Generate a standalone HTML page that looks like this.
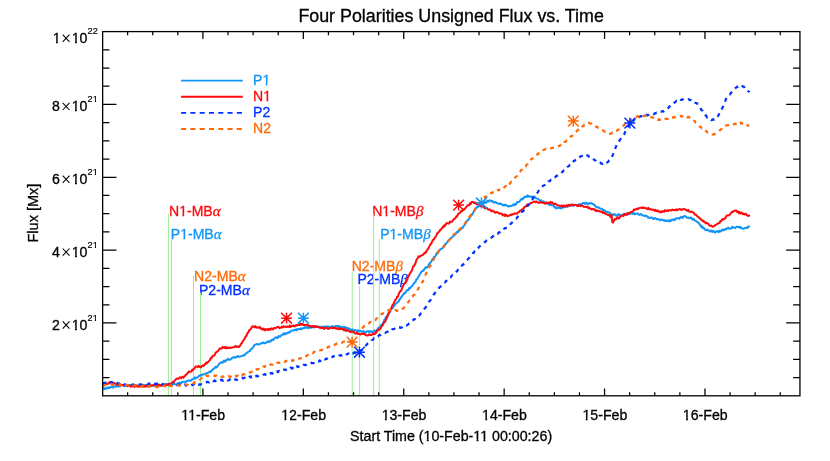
<!DOCTYPE html>
<html><head><meta charset="utf-8"><title>Four Polarities Unsigned Flux vs. Time</title>
<style>
html,body{margin:0;padding:0;background:#fff;}
body{width:830px;height:461px;overflow:hidden;}
svg{display:block;will-change:transform;opacity:0.999;}
text{font-family:"Liberation Sans",sans-serif;stroke-width:0.3px;paint-order:stroke;}
.al{font-size:14.15px;fill:#000;stroke:#000;}
.sup{font-size:9.2px;fill:#000;stroke:#000;stroke-width:0.2px;}
.ann{font-size:14.05px;}
.gk{font-family:"Liberation Serif",serif;font-style:italic;font-size:15px;}
</style></head><body>
<svg width="830" height="461" viewBox="0 0 830 461">
<rect width="830" height="461" fill="#fff"/>
<text x="451.1" y="21.6" text-anchor="middle" font-size="17.85" stroke="#000">Four Polarities Unsigned Flux vs. Time</text>
<text class="ann" x="169.0" y="215.9" fill="#FF0A0C" stroke="#FF0A0C">N1-MB<tspan class="gk">α</tspan></text><path d="M179.00 214.00H182.37V217.00H179.00ZM184.22 214.00H187.00V217.00H184.22Z" fill="#fff"/>
<text class="ann" x="170.8" y="239.2" fill="#1094F6" stroke="#1094F6">P1-MB<tspan class="gk">α</tspan></text><path d="M180.00 237.00H183.39V240.00H180.00ZM185.23 237.00H188.00V240.00H185.23Z" fill="#fff"/>
<text class="ann" x="194.1" y="280.9" fill="#FF6A08" stroke="#FF6A08">N2-MB<tspan class="gk">α</tspan></text>
<text class="ann" x="199.0" y="294.8" fill="#0030FF" stroke="#0030FF">P2-MB<tspan class="gk">α</tspan></text>
<text class="ann" x="372.2" y="215.6" fill="#FF0A0C" stroke="#FF0A0C">N1-MB<tspan class="gk">β</tspan></text><path d="M382.00 214.00H385.57V217.00H382.00ZM387.42 214.00H391.00V217.00H387.42Z" fill="#fff"/>
<text class="ann" x="380.2" y="238.8" fill="#1094F6" stroke="#1094F6">P1-MB<tspan class="gk">β</tspan></text><path d="M390.00 237.00H392.79V240.00H390.00ZM394.63 237.00H398.00V240.00H394.63Z" fill="#fff"/>
<text class="ann" x="351.7" y="271.3" fill="#FF6A08" stroke="#FF6A08">N2-MB<tspan class="gk">β</tspan></text>
<text class="ann" x="357.4" y="284.4" fill="#0030FF" stroke="#0030FF">P2-MB<tspan class="gk">β</tspan></text>
<line x1="168.40" y1="213.8" x2="168.40" y2="395.8" stroke="#98EE98" stroke-width="1"/>
<line x1="171.40" y1="238.6" x2="171.40" y2="395.8" stroke="#98EE98" stroke-width="1"/>
<line x1="193.50" y1="276.0" x2="193.50" y2="395.8" stroke="#98EE98" stroke-width="1"/>
<line x1="200.50" y1="292.8" x2="200.50" y2="395.8" stroke="#98EE98" stroke-width="1"/>
<line x1="352.20" y1="272.0" x2="352.20" y2="395.8" stroke="#98EE98" stroke-width="1"/>
<line x1="359.60" y1="286.0" x2="359.60" y2="395.8" stroke="#98EE98" stroke-width="1"/>
<line x1="373.60" y1="214.2" x2="373.60" y2="395.8" stroke="#98EE98" stroke-width="1"/>
<line x1="379.30" y1="239.2" x2="379.30" y2="395.8" stroke="#98EE98" stroke-width="1"/>
<g fill="none" stroke-linejoin="round">
<path d="M102.7 388.6 L103.5 388.3 L104.3 389.1 L105.1 388.0 L105.9 388.7 L106.7 388.3 L107.5 387.6 L108.3 388.3 L109.1 387.4 L109.9 387.9 L110.7 387.1 L111.5 387.0 L112.3 387.3 L113.1 387.7 L113.9 386.2 L114.7 386.1 L115.5 386.5 L116.3 386.8 L117.1 386.0 L117.9 385.6 L118.7 386.5 L119.5 384.9 L120.3 386.3 L121.1 385.3 L121.9 385.1 L122.7 385.1 L123.5 385.4 L124.3 386.2 L125.1 385.2 L125.9 385.8 L126.7 385.9 L127.5 385.5 L128.3 385.8 L129.1 384.9 L129.9 384.9 L130.7 385.2 L131.5 386.0 L132.3 385.5 L133.1 385.3 L133.9 385.8 L134.7 385.6 L135.5 385.3 L136.3 386.1 L137.1 386.0 L137.9 385.2 L138.7 385.7 L139.5 385.6 L140.3 386.2 L141.1 386.0 L141.9 385.2 L142.7 386.4 L143.5 384.9 L144.3 385.4 L145.1 385.9 L145.9 384.9 L146.7 385.4 L147.5 384.7 L148.3 385.7 L149.1 385.9 L149.9 385.5 L150.7 386.0 L151.5 385.1 L152.3 385.7 L153.1 385.5 L153.9 385.5 L154.7 385.2 L155.5 385.8 L156.3 386.0 L157.1 385.2 L157.9 385.4 L158.7 384.4 L159.5 385.4 L160.3 385.3 L161.1 385.8 L161.9 385.5 L162.7 384.6 L163.5 384.7 L164.3 385.1 L165.1 384.0 L165.9 384.7 L166.7 384.2 L167.5 384.0 L168.3 383.9 L169.1 385.1 L169.9 384.0 L170.7 384.1 L171.5 384.3 L172.3 385.0 L173.1 383.5 L173.9 384.0 L174.7 384.0 L175.5 384.5 L176.3 384.2 L177.1 384.1 L177.9 383.0 L178.7 383.1 L179.5 382.8 L180.3 383.6 L181.1 383.5 L181.9 382.0 L182.7 381.9 L183.5 381.8 L184.3 381.6 L185.1 381.9 L185.9 381.9 L186.7 381.1 L187.5 380.5 L188.3 380.9 L189.1 380.5 L189.9 380.5 L190.7 380.8 L191.5 380.0 L192.3 379.3 L193.1 379.1 L193.9 378.8 L194.7 377.4 L195.5 378.4 L196.3 377.8 L197.1 377.6 L197.9 377.1 L198.7 376.0 L199.5 375.7 L200.3 375.0 L201.1 375.7 L201.9 374.5 L202.7 374.4 L203.5 374.4 L204.3 374.2 L205.1 374.3 L205.9 373.6 L206.7 373.2 L207.5 373.0 L208.3 372.5 L209.1 372.3 L209.9 371.2 L210.7 372.0 L211.5 371.0 L212.3 369.6 L213.1 369.2 L213.9 368.7 L214.7 368.0 L215.5 366.9 L216.3 367.5 L217.1 367.0 L217.9 365.4 L218.7 364.7 L219.5 363.4 L220.3 362.8 L221.1 362.7 L221.9 362.1 L222.7 362.6 L223.5 361.1 L224.3 360.5 L225.1 361.8 L225.9 360.7 L226.7 359.7 L227.5 360.0 L228.3 358.8 L229.1 359.4 L229.9 359.8 L230.7 359.3 L231.5 358.7 L232.3 357.7 L233.1 357.6 L233.9 357.0 L234.7 357.7 L235.5 357.1 L236.3 357.3 L237.1 356.3 L237.9 355.9 L238.7 356.7 L239.5 356.8 L240.3 356.4 L241.1 356.2 L241.9 356.1 L242.7 355.9 L243.5 355.0 L244.3 355.4 L245.1 354.7 L245.9 353.6 L246.7 352.9 L247.5 352.5 L248.3 351.6 L249.1 351.4 L249.9 351.0 L250.7 349.2 L251.5 349.1 L252.3 348.2 L253.1 347.4 L253.9 345.7 L254.7 344.9 L255.5 344.6 L256.3 344.3 L257.1 344.0 L257.9 344.4 L258.7 344.6 L259.5 344.3 L260.3 343.5 L261.1 343.5 L261.9 343.6 L262.7 342.3 L263.5 343.1 L264.3 343.4 L265.1 343.0 L265.9 342.8 L266.7 342.2 L267.5 341.5 L268.3 342.2 L269.1 341.1 L269.9 341.5 L270.7 341.4 L271.5 340.0 L272.3 339.6 L273.1 340.1 L273.9 339.3 L274.7 338.0 L275.5 337.5 L276.3 337.2 L277.1 338.1 L277.9 337.5 L278.7 336.0 L279.5 336.7 L280.3 336.6 L281.1 335.7 L281.9 334.8 L282.7 334.8 L283.5 333.7 L284.3 333.2 L285.1 334.5 L285.9 333.6 L286.7 333.0 L287.5 333.4 L288.3 332.2 L289.1 332.7 L289.9 332.3 L290.7 331.0 L291.5 330.8 L292.3 330.6 L293.1 330.3 L293.9 330.6 L294.7 329.8 L295.5 329.9 L296.3 329.2 L297.1 330.3 L297.9 329.1 L298.7 329.1 L299.5 329.1 L300.3 329.4 L301.1 328.4 L301.9 329.1 L302.7 328.2 L303.5 328.2 L304.3 328.1 L305.1 327.1 L305.9 327.8 L306.7 327.3 L307.5 326.9 L308.3 328.2 L309.1 327.0 L309.9 327.5 L310.7 327.8 L311.5 327.5 L312.3 327.0 L313.1 327.2 L313.9 327.2 L314.7 327.5 L315.5 326.3 L316.3 327.0 L317.1 326.4 L317.9 326.4 L318.7 327.2 L319.5 326.8 L320.3 326.8 L321.1 327.2 L321.9 327.4 L322.7 326.6 L323.5 326.8 L324.3 326.6 L325.1 326.6 L325.9 326.9 L326.7 326.5 L327.5 326.6 L328.3 326.5 L329.1 327.3 L329.9 326.8 L330.7 327.1 L331.5 327.2 L332.3 326.0 L333.1 326.5 L333.9 327.2 L334.7 327.0 L335.5 325.9 L336.3 325.9 L337.1 326.5 L337.9 326.0 L338.7 326.3 L339.5 326.1 L340.3 327.2 L341.1 327.4 L341.9 327.7 L342.7 326.5 L343.5 327.5 L344.3 327.5 L345.1 326.8 L345.9 328.3 L346.7 328.7 L347.5 327.7 L348.3 329.3 L349.1 328.6 L349.9 329.1 L350.7 330.2 L351.5 330.2 L352.3 329.3 L353.1 330.0 L353.9 330.3 L354.7 330.2 L355.5 330.1 L356.3 330.4 L357.1 331.3 L357.9 330.2 L358.7 331.3 L359.5 331.3 L360.3 330.7 L361.1 331.3 L361.9 331.9 L362.7 331.7 L363.5 331.0 L364.3 332.6 L365.1 332.3 L365.9 332.6 L366.7 331.2 L367.5 331.5 L368.3 331.1 L369.1 332.4 L369.9 331.5 L370.7 331.1 L371.5 331.5 L372.3 332.2 L373.1 331.9 L373.9 330.8 L374.7 330.5 L375.5 331.5 L376.3 330.5 L377.1 330.2 L377.9 328.5 L378.7 327.6 L379.5 327.9 L380.3 326.6 L381.1 325.0 L381.9 325.3 L382.7 323.5 L383.5 322.4 L384.3 319.7 L385.1 319.6 L385.9 316.9 L386.7 316.9 L387.5 314.9 L388.3 313.4 L389.1 312.6 L389.9 312.2 L390.7 310.0 L391.5 308.9 L392.3 308.6 L393.1 307.2 L393.9 306.0 L394.7 305.1 L395.5 304.0 L396.3 303.3 L397.1 302.6 L397.9 301.6 L398.7 301.4 L399.5 299.5 L400.3 298.9 L401.1 297.3 L401.9 296.5 L402.7 295.0 L403.5 294.4 L404.3 293.0 L405.1 293.2 L405.9 292.0 L406.7 290.5 L407.5 290.1 L408.3 290.2 L409.1 288.0 L409.9 288.6 L410.7 287.2 L411.5 286.5 L412.3 286.1 L413.1 284.4 L413.9 283.4 L414.7 282.5 L415.5 281.8 L416.3 279.5 L417.1 279.1 L417.9 277.7 L418.7 276.4 L419.5 274.9 L420.3 273.7 L421.1 272.2 L421.9 271.3 L422.7 270.4 L423.5 270.7 L424.3 269.1 L425.1 268.1 L425.9 267.2 L426.7 267.7 L427.5 266.9 L428.3 265.8 L429.1 264.2 L429.9 263.2 L430.7 262.2 L431.5 261.3 L432.3 259.5 L433.1 258.6 L433.9 257.0 L434.7 257.0 L435.5 256.0 L436.3 254.3 L437.1 252.8 L437.9 253.2 L438.7 251.3 L439.5 250.6 L440.3 249.2 L441.1 249.1 L441.9 248.5 L442.7 247.8 L443.5 246.5 L444.3 246.1 L445.1 244.4 L445.9 243.9 L446.7 242.7 L447.5 242.3 L448.3 240.7 L449.1 239.8 L449.9 239.3 L450.7 238.2 L451.5 237.9 L452.3 236.9 L453.1 236.5 L453.9 235.5 L454.7 234.8 L455.5 234.3 L456.3 232.7 L457.1 231.8 L457.9 232.3 L458.7 230.2 L459.5 230.6 L460.3 229.7 L461.1 228.0 L461.9 228.5 L462.7 227.7 L463.5 226.2 L464.3 225.3 L465.1 224.4 L465.9 222.1 L466.7 221.6 L467.5 220.4 L468.3 219.8 L469.1 218.6 L469.9 217.5 L470.7 216.1 L471.5 215.5 L472.3 214.1 L473.1 213.1 L473.9 211.2 L474.7 209.8 L475.5 208.8 L476.3 208.2 L477.1 206.7 L477.9 206.9 L478.7 205.5 L479.5 204.8 L480.3 204.1 L481.1 203.7 L481.9 202.9 L482.7 201.8 L483.5 202.9 L484.3 202.6 L485.1 202.0 L485.9 201.8 L486.7 201.9 L487.5 200.7 L488.3 201.7 L489.1 200.7 L489.9 200.3 L490.7 200.6 L491.5 201.5 L492.3 200.8 L493.1 201.9 L493.9 202.6 L494.7 202.0 L495.5 202.1 L496.3 202.6 L497.1 203.2 L497.9 203.6 L498.7 203.7 L499.5 204.0 L500.3 203.4 L501.1 203.8 L501.9 204.3 L502.7 205.3 L503.5 204.8 L504.3 205.5 L505.1 204.7 L505.9 204.9 L506.7 205.4 L507.5 206.2 L508.3 206.4 L509.1 206.4 L509.9 205.8 L510.7 206.0 L511.5 205.8 L512.3 205.5 L513.1 204.5 L513.9 205.5 L514.7 203.9 L515.5 204.8 L516.3 204.2 L517.1 202.0 L517.9 202.1 L518.7 202.1 L519.5 201.7 L520.3 200.2 L521.1 199.3 L521.9 198.7 L522.7 199.4 L523.5 197.6 L524.3 197.7 L525.1 196.4 L525.9 196.6 L526.7 197.0 L527.5 195.4 L528.3 196.5 L529.1 196.1 L529.9 196.9 L530.7 196.8 L531.5 196.2 L532.3 197.5 L533.1 197.0 L533.9 196.5 L534.7 196.8 L535.5 198.0 L536.3 198.4 L537.1 198.6 L537.9 198.8 L538.7 199.6 L539.5 200.0 L540.3 201.3 L541.1 200.3 L541.9 201.9 L542.7 202.3 L543.5 201.3 L544.3 203.0 L545.1 202.8 L545.9 203.4 L546.7 202.6 L547.5 203.0 L548.3 203.4 L549.1 204.8 L549.9 204.6 L550.7 204.7 L551.5 205.2 L552.3 205.4 L553.1 205.5 L553.9 206.0 L554.7 207.6 L555.5 207.0 L556.3 208.4 L557.1 207.6 L557.9 207.8 L558.7 208.2 L559.5 207.6 L560.3 207.7 L561.1 208.4 L561.9 207.9 L562.7 207.5 L563.5 206.9 L564.3 207.2 L565.1 207.1 L565.9 206.3 L566.7 206.5 L567.5 205.2 L568.3 206.2 L569.1 205.6 L569.9 206.1 L570.7 205.8 L571.5 205.1 L572.3 204.6 L573.1 206.0 L573.9 204.6 L574.7 205.1 L575.5 204.8 L576.3 204.7 L577.1 205.4 L577.9 205.7 L578.7 204.4 L579.5 204.9 L580.3 204.1 L581.1 204.3 L581.9 203.8 L582.7 203.1 L583.5 202.9 L584.3 202.8 L585.1 203.9 L585.9 203.2 L586.7 202.7 L587.5 204.0 L588.3 204.2 L589.1 203.4 L589.9 202.9 L590.7 203.2 L591.5 203.2 L592.3 204.0 L593.1 204.0 L593.9 204.7 L594.7 205.2 L595.5 206.2 L596.3 207.2 L597.1 207.4 L597.9 207.2 L598.7 207.7 L599.5 208.2 L600.3 208.4 L601.1 208.7 L601.9 208.7 L602.7 209.4 L603.5 211.0 L604.3 210.0 L605.1 211.0 L605.9 211.6 L606.7 212.4 L607.5 211.7 L608.3 212.2 L609.1 212.5 L609.9 213.1 L610.7 213.5 L611.5 214.7 L612.3 214.9 L613.1 215.2 L613.9 214.0 L614.7 214.1 L615.5 215.4 L616.3 215.7 L617.1 215.0 L617.9 215.2 L618.7 214.1 L619.5 214.7 L620.3 215.5 L621.1 215.3 L621.9 215.2 L622.7 215.3 L623.5 214.0 L624.3 213.7 L625.1 213.7 L625.9 214.2 L626.7 214.4 L627.5 214.7 L628.3 214.2 L629.1 214.0 L629.9 214.1 L630.7 213.4 L631.5 213.5 L632.3 212.6 L633.1 213.9 L633.9 213.0 L634.7 214.3 L635.5 214.0 L636.3 213.5 L637.1 213.4 L637.9 213.8 L638.7 214.6 L639.5 214.9 L640.3 214.0 L641.1 214.2 L641.9 215.2 L642.7 215.5 L643.5 215.4 L644.3 215.4 L645.1 216.2 L645.9 215.5 L646.7 216.2 L647.5 216.7 L648.3 217.8 L649.1 217.5 L649.9 218.1 L650.7 217.6 L651.5 217.4 L652.3 217.6 L653.1 219.0 L653.9 218.8 L654.7 218.3 L655.5 218.0 L656.3 219.0 L657.1 219.4 L657.9 219.2 L658.7 219.1 L659.5 219.9 L660.3 220.5 L661.1 219.5 L661.9 219.4 L662.7 220.0 L663.5 220.3 L664.3 220.8 L665.1 220.1 L665.9 221.2 L666.7 221.1 L667.5 220.8 L668.3 220.3 L669.1 221.5 L669.9 220.3 L670.7 221.0 L671.5 219.8 L672.3 219.6 L673.1 220.2 L673.9 219.2 L674.7 220.1 L675.5 219.1 L676.3 218.3 L677.1 218.1 L677.9 218.3 L678.7 218.5 L679.5 218.7 L680.3 217.2 L681.1 217.4 L681.9 216.9 L682.7 218.0 L683.5 216.4 L684.3 216.1 L685.1 216.1 L685.9 216.7 L686.7 217.6 L687.5 217.7 L688.3 217.6 L689.1 218.2 L689.9 218.3 L690.7 217.6 L691.5 217.7 L692.3 219.5 L693.1 219.7 L693.9 219.0 L694.7 220.6 L695.5 220.7 L696.3 221.3 L697.1 221.9 L697.9 222.3 L698.7 222.9 L699.5 224.1 L700.3 225.0 L701.1 226.8 L701.9 226.1 L702.7 228.2 L703.5 227.6 L704.3 228.4 L705.1 229.7 L705.9 230.2 L706.7 230.0 L707.5 229.6 L708.3 230.6 L709.1 230.5 L709.9 231.6 L710.7 230.5 L711.5 230.9 L712.3 232.0 L713.1 230.7 L713.9 231.5 L714.7 232.4 L715.5 232.5 L716.3 231.3 L717.1 231.2 L717.9 231.1 L718.7 232.3 L719.5 230.8 L720.3 231.4 L721.1 231.3 L721.9 230.0 L722.7 229.6 L723.5 230.5 L724.3 229.7 L725.1 228.9 L725.9 229.5 L726.7 228.6 L727.5 228.3 L728.3 227.6 L729.1 228.7 L729.9 228.8 L730.7 228.2 L731.5 228.5 L732.3 226.8 L733.1 227.1 L733.9 227.4 L734.7 228.1 L735.5 228.0 L736.3 226.9 L737.1 226.6 L737.9 226.9 L738.7 227.0 L739.5 227.8 L740.3 226.7 L741.1 228.0 L741.9 228.2 L742.7 228.6 L743.5 228.7 L744.3 228.4 L745.1 227.9 L745.9 227.8 L746.7 227.6 L747.5 228.0 L748.3 226.5 L749.1 226.6 L749.4 227.4" stroke="#1094F6" stroke-width="2.0"/>
<path d="M102.7 384.3 L103.5 383.8 L104.3 383.6 L105.1 384.1 L105.9 383.4 L106.7 384.1 L107.5 383.7 L108.3 383.7 L109.1 382.4 L109.9 382.1 L110.7 382.2 L111.5 383.0 L112.3 383.4 L113.1 383.1 L113.9 382.8 L114.7 383.3 L115.5 383.9 L116.3 384.2 L117.1 384.5 L117.9 384.9 L118.7 384.8 L119.5 384.0 L120.3 385.4 L121.1 384.6 L121.9 385.1 L122.7 384.9 L123.5 385.6 L124.3 384.7 L125.1 384.9 L125.9 385.0 L126.7 384.9 L127.5 386.2 L128.3 385.8 L129.1 385.4 L129.9 385.6 L130.7 386.7 L131.5 386.0 L132.3 385.5 L133.1 386.6 L133.9 386.3 L134.7 386.9 L135.5 385.4 L136.3 386.0 L137.1 386.6 L137.9 386.6 L138.7 386.7 L139.5 385.2 L140.3 385.6 L141.1 385.3 L141.9 385.4 L142.7 386.7 L143.5 386.0 L144.3 386.6 L145.1 385.6 L145.9 386.5 L146.7 385.7 L147.5 385.4 L148.3 386.3 L149.1 386.5 L149.9 385.1 L150.7 385.9 L151.5 385.9 L152.3 385.2 L153.1 385.5 L153.9 385.1 L154.7 385.1 L155.5 385.2 L156.3 385.8 L157.1 385.8 L157.9 385.0 L158.7 384.7 L159.5 385.2 L160.3 385.8 L161.1 384.9 L161.9 385.1 L162.7 384.9 L163.5 385.9 L164.3 385.4 L165.1 384.6 L165.9 384.5 L166.7 384.9 L167.5 385.0 L168.3 384.9 L169.1 383.8 L169.9 383.6 L170.7 384.2 L171.5 383.3 L172.3 382.5 L173.1 381.9 L173.9 382.2 L174.7 380.3 L175.5 379.9 L176.3 378.9 L177.1 378.4 L177.9 378.7 L178.7 378.7 L179.5 377.5 L180.3 377.3 L181.1 378.2 L181.9 377.3 L182.7 376.7 L183.5 377.7 L184.3 376.2 L185.1 376.0 L185.9 374.5 L186.7 374.6 L187.5 373.3 L188.3 372.2 L189.1 371.4 L189.9 371.9 L190.7 371.6 L191.5 371.6 L192.3 369.6 L193.1 369.9 L193.9 368.7 L194.7 368.1 L195.5 366.7 L196.3 366.4 L197.1 366.5 L197.9 367.1 L198.7 365.8 L199.5 366.7 L200.3 367.2 L201.1 367.4 L201.9 365.8 L202.7 365.2 L203.5 366.0 L204.3 365.5 L205.1 364.1 L205.9 362.8 L206.7 363.6 L207.5 361.9 L208.3 362.0 L209.1 360.7 L209.9 360.1 L210.7 358.1 L211.5 358.3 L212.3 356.4 L213.1 355.8 L213.9 355.7 L214.7 354.9 L215.5 353.0 L216.3 352.2 L217.1 351.7 L217.9 351.1 L218.7 350.1 L219.5 348.9 L220.3 348.3 L221.1 348.5 L221.9 348.4 L222.7 346.8 L223.5 347.6 L224.3 348.0 L225.1 346.9 L225.9 348.4 L226.7 347.2 L227.5 348.1 L228.3 348.1 L229.1 348.2 L229.9 347.6 L230.7 347.7 L231.5 347.8 L232.3 347.3 L233.1 347.5 L233.9 347.0 L234.7 346.7 L235.5 345.9 L236.3 346.9 L237.1 346.7 L237.9 346.3 L238.7 347.0 L239.5 346.6 L240.3 345.3 L241.1 343.8 L241.9 343.2 L242.7 341.4 L243.5 340.2 L244.3 339.4 L245.1 337.4 L245.9 336.5 L246.7 335.2 L247.5 333.0 L248.3 332.6 L249.1 330.3 L249.9 330.1 L250.7 329.1 L251.5 327.7 L252.3 326.3 L253.1 326.7 L253.9 326.4 L254.7 327.5 L255.5 326.1 L256.3 327.4 L257.1 327.7 L257.9 327.4 L258.7 327.7 L259.5 326.8 L260.3 328.5 L261.1 328.0 L261.9 329.2 L262.7 329.5 L263.5 328.6 L264.3 330.0 L265.1 330.4 L265.9 329.0 L266.7 329.5 L267.5 330.0 L268.3 328.9 L269.1 330.0 L269.9 328.8 L270.7 329.6 L271.5 328.3 L272.3 328.8 L273.1 329.4 L273.9 328.0 L274.7 327.9 L275.5 328.2 L276.3 327.7 L277.1 327.1 L277.9 327.1 L278.7 327.0 L279.5 328.1 L280.3 327.6 L281.1 327.8 L281.9 326.5 L282.7 327.4 L283.5 326.2 L284.3 326.8 L285.1 326.9 L285.9 326.4 L286.7 327.1 L287.5 326.5 L288.3 326.5 L289.1 326.9 L289.9 325.5 L290.7 326.9 L291.5 326.2 L292.3 325.7 L293.1 326.3 L293.9 325.4 L294.7 326.5 L295.5 325.6 L296.3 325.1 L297.1 325.6 L297.9 324.9 L298.7 324.2 L299.5 325.0 L300.3 323.6 L301.1 324.8 L301.9 323.8 L302.7 324.5 L303.5 325.2 L304.3 324.8 L305.1 325.2 L305.9 324.9 L306.7 324.6 L307.5 324.9 L308.3 325.2 L309.1 326.2 L309.9 326.0 L310.7 326.3 L311.5 327.1 L312.3 325.9 L313.1 326.2 L313.9 327.0 L314.7 326.1 L315.5 326.2 L316.3 326.9 L317.1 326.6 L317.9 327.1 L318.7 327.0 L319.5 327.7 L320.3 327.9 L321.1 327.3 L321.9 328.1 L322.7 328.0 L323.5 327.5 L324.3 329.0 L325.1 327.9 L325.9 327.8 L326.7 327.7 L327.5 328.6 L328.3 328.9 L329.1 328.7 L329.9 328.0 L330.7 327.7 L331.5 327.2 L332.3 328.2 L333.1 328.0 L333.9 327.7 L334.7 328.2 L335.5 327.9 L336.3 328.9 L337.1 328.7 L337.9 328.0 L338.7 329.3 L339.5 328.0 L340.3 329.0 L341.1 329.0 L341.9 328.8 L342.7 328.7 L343.5 330.1 L344.3 329.0 L345.1 330.2 L345.9 331.0 L346.7 329.9 L347.5 330.2 L348.3 331.2 L349.1 331.2 L349.9 331.7 L350.7 332.2 L351.5 331.3 L352.3 331.7 L353.1 331.9 L353.9 331.7 L354.7 333.3 L355.5 333.4 L356.3 333.5 L357.1 332.5 L357.9 334.1 L358.7 334.1 L359.5 333.8 L360.3 334.5 L361.1 334.1 L361.9 333.8 L362.7 333.7 L363.5 334.0 L364.3 333.8 L365.1 334.4 L365.9 335.2 L366.7 335.2 L367.5 335.5 L368.3 335.3 L369.1 334.5 L369.9 335.0 L370.7 334.6 L371.5 335.0 L372.3 334.4 L373.1 333.7 L373.9 334.0 L374.7 334.1 L375.5 332.3 L376.3 332.8 L377.1 330.6 L377.9 330.3 L378.7 329.5 L379.5 329.5 L380.3 328.9 L381.1 327.5 L381.9 325.6 L382.7 325.4 L383.5 323.3 L384.3 322.0 L385.1 321.8 L385.9 319.9 L386.7 318.3 L387.5 316.4 L388.3 314.9 L389.1 312.1 L389.9 310.9 L390.7 309.0 L391.5 307.7 L392.3 305.5 L393.1 304.6 L393.9 302.9 L394.7 301.1 L395.5 299.6 L396.3 299.0 L397.1 296.7 L397.9 296.7 L398.7 294.0 L399.5 292.4 L400.3 291.1 L401.1 291.0 L401.9 288.6 L402.7 286.8 L403.5 285.1 L404.3 283.6 L405.1 283.2 L405.9 281.6 L406.7 280.2 L407.5 278.8 L408.3 276.1 L409.1 275.4 L409.9 273.4 L410.7 272.6 L411.5 271.0 L412.3 269.5 L413.1 266.5 L413.9 266.3 L414.7 264.7 L415.5 263.2 L416.3 260.3 L417.1 259.1 L417.9 257.6 L418.7 256.4 L419.5 256.9 L420.3 256.1 L421.1 255.4 L421.9 255.5 L422.7 255.0 L423.5 254.1 L424.3 253.3 L425.1 252.6 L425.9 252.7 L426.7 250.7 L427.5 249.7 L428.3 248.6 L429.1 246.5 L429.9 245.5 L430.7 244.0 L431.5 243.2 L432.3 241.2 L433.1 239.7 L433.9 239.6 L434.7 237.6 L435.5 237.1 L436.3 235.6 L437.1 233.4 L437.9 233.0 L438.7 231.9 L439.5 231.4 L440.3 229.7 L441.1 229.4 L441.9 228.3 L442.7 226.9 L443.5 227.3 L444.3 225.2 L445.1 225.8 L445.9 224.0 L446.7 223.2 L447.5 223.0 L448.3 223.5 L449.1 223.6 L449.9 221.6 L450.7 222.1 L451.5 221.7 L452.3 221.6 L453.1 219.8 L453.9 219.4 L454.7 218.3 L455.5 218.2 L456.3 216.3 L457.1 216.5 L457.9 214.4 L458.7 213.4 L459.5 213.5 L460.3 212.4 L461.1 211.0 L461.9 211.3 L462.7 209.6 L463.5 210.1 L464.3 209.2 L465.1 208.6 L465.9 207.5 L466.7 206.3 L467.5 205.7 L468.3 205.0 L469.1 205.3 L469.9 203.3 L470.7 204.1 L471.5 202.1 L472.3 202.1 L473.1 202.0 L473.9 203.1 L474.7 202.6 L475.5 202.7 L476.3 204.1 L477.1 203.4 L477.9 204.3 L478.7 204.8 L479.5 205.6 L480.3 206.0 L481.1 206.2 L481.9 206.1 L482.7 206.4 L483.5 206.4 L484.3 207.9 L485.1 208.0 L485.9 208.4 L486.7 207.8 L487.5 208.7 L488.3 209.6 L489.1 209.7 L489.9 209.3 L490.7 210.3 L491.5 211.4 L492.3 210.6 L493.1 210.8 L493.9 211.3 L494.7 212.3 L495.5 212.8 L496.3 211.9 L497.1 212.2 L497.9 212.7 L498.7 213.1 L499.5 213.7 L500.3 213.3 L501.1 213.8 L501.9 213.8 L502.7 215.4 L503.5 215.2 L504.3 214.3 L505.1 216.0 L505.9 214.7 L506.7 215.2 L507.5 216.3 L508.3 215.9 L509.1 215.7 L509.9 215.1 L510.7 214.6 L511.5 215.2 L512.3 214.2 L513.1 214.2 L513.9 214.2 L514.7 213.3 L515.5 213.6 L516.3 213.8 L517.1 213.3 L517.9 212.5 L518.7 212.3 L519.5 211.5 L520.3 210.4 L521.1 210.6 L521.9 209.5 L522.7 209.3 L523.5 208.8 L524.3 207.2 L525.1 206.7 L525.9 206.4 L526.7 205.2 L527.5 204.3 L528.3 204.7 L529.1 204.4 L529.9 203.8 L530.7 203.1 L531.5 203.0 L532.3 202.4 L533.1 202.1 L533.9 201.7 L534.7 201.6 L535.5 202.2 L536.3 201.4 L537.1 202.1 L537.9 202.8 L538.7 202.7 L539.5 202.7 L540.3 202.1 L541.1 202.5 L541.9 202.6 L542.7 202.9 L543.5 202.6 L544.3 203.1 L545.1 203.6 L545.9 202.4 L546.7 203.2 L547.5 203.4 L548.3 202.6 L549.1 202.7 L549.9 203.5 L550.7 201.9 L551.5 202.8 L552.3 202.3 L553.1 203.6 L553.9 204.2 L554.7 203.9 L555.5 203.5 L556.3 204.6 L557.1 204.9 L557.9 205.5 L558.7 205.4 L559.5 205.8 L560.3 206.2 L561.1 205.7 L561.9 205.6 L562.7 206.6 L563.5 205.4 L564.3 206.2 L565.1 205.7 L565.9 206.3 L566.7 205.2 L567.5 206.6 L568.3 205.4 L569.1 204.8 L569.9 205.1 L570.7 205.2 L571.5 204.4 L572.3 205.1 L573.1 205.0 L573.9 205.5 L574.7 205.0 L575.5 204.9 L576.3 204.9 L577.1 205.8 L577.9 206.2 L578.7 205.5 L579.5 205.1 L580.3 206.2 L581.1 205.6 L581.9 205.5 L582.7 205.5 L583.5 206.7 L584.3 206.9 L585.1 206.8 L585.9 206.7 L586.7 207.1 L587.5 206.8 L588.3 208.3 L589.1 207.6 L589.9 208.4 L590.7 209.0 L591.5 209.3 L592.3 209.0 L593.1 209.0 L593.9 209.7 L594.7 209.2 L595.5 210.7 L596.3 210.2 L597.1 211.3 L597.9 210.5 L598.7 211.0 L599.5 211.1 L600.3 211.7 L601.1 211.6 L601.9 211.6 L602.7 213.1 L603.5 212.7 L604.3 213.0 L605.1 213.4 L605.9 214.0 L606.7 214.2 L607.5 214.8 L608.3 215.1 L609.1 214.8 L609.9 216.0 L610.7 217.1 L611.5 214.8 L612.3 222.0 L613.1 222.7 L613.9 220.7 L614.7 219.1 L615.5 219.5 L616.3 218.9 L617.1 217.5 L617.9 217.3 L618.7 218.5 L619.5 217.7 L620.3 216.7 L621.1 216.0 L621.9 215.7 L622.7 215.4 L623.5 216.0 L624.3 214.8 L625.1 214.1 L625.9 215.0 L626.7 214.4 L627.5 212.9 L628.3 213.7 L629.1 212.8 L629.9 212.7 L630.7 212.1 L631.5 212.1 L632.3 211.4 L633.1 211.1 L633.9 209.5 L634.7 209.9 L635.5 209.2 L636.3 209.3 L637.1 208.5 L637.9 209.1 L638.7 208.5 L639.5 207.9 L640.3 207.8 L641.1 207.6 L641.9 208.1 L642.7 207.4 L643.5 208.0 L644.3 207.5 L645.1 208.2 L645.9 208.3 L646.7 208.5 L647.5 209.2 L648.3 207.8 L649.1 209.4 L649.9 208.9 L650.7 209.2 L651.5 209.5 L652.3 210.0 L653.1 209.5 L653.9 209.8 L654.7 210.9 L655.5 209.7 L656.3 210.9 L657.1 211.2 L657.9 210.4 L658.7 211.6 L659.5 211.8 L660.3 212.3 L661.1 211.3 L661.9 212.3 L662.7 211.3 L663.5 211.1 L664.3 211.7 L665.1 210.1 L665.9 211.1 L666.7 210.9 L667.5 210.3 L668.3 211.1 L669.1 210.1 L669.9 210.3 L670.7 210.3 L671.5 210.6 L672.3 209.6 L673.1 210.0 L673.9 209.9 L674.7 210.0 L675.5 210.4 L676.3 209.4 L677.1 210.2 L677.9 209.4 L678.7 209.5 L679.5 209.0 L680.3 209.2 L681.1 209.9 L681.9 209.3 L682.7 209.6 L683.5 208.9 L684.3 209.1 L685.1 209.3 L685.9 210.0 L686.7 210.4 L687.5 210.9 L688.3 209.9 L689.1 211.4 L689.9 212.1 L690.7 211.9 L691.5 211.5 L692.3 212.3 L693.1 212.2 L693.9 212.9 L694.7 214.6 L695.5 214.5 L696.3 215.1 L697.1 216.0 L697.9 216.9 L698.7 217.2 L699.5 218.0 L700.3 218.8 L701.1 219.7 L701.9 220.2 L702.7 221.0 L703.5 220.8 L704.3 222.2 L705.1 222.3 L705.9 223.4 L706.7 222.8 L707.5 223.4 L708.3 223.6 L709.1 225.2 L709.9 225.8 L710.7 225.7 L711.5 225.6 L712.3 226.7 L713.1 226.7 L713.9 226.3 L714.7 225.5 L715.5 225.1 L716.3 224.7 L717.1 223.9 L717.9 223.5 L718.7 223.2 L719.5 223.1 L720.3 221.0 L721.1 221.2 L721.9 219.6 L722.7 219.1 L723.5 219.6 L724.3 218.6 L725.1 218.5 L725.9 217.0 L726.7 215.6 L727.5 215.6 L728.3 215.3 L729.1 215.2 L729.9 214.6 L730.7 213.2 L731.5 212.5 L732.3 211.5 L733.1 212.0 L733.9 210.9 L734.7 210.7 L735.5 210.5 L736.3 210.6 L737.1 212.0 L737.9 211.4 L738.7 213.2 L739.5 212.0 L740.3 213.6 L741.1 212.6 L741.9 212.7 L742.7 214.1 L743.5 213.5 L744.3 214.5 L745.1 213.8 L745.9 213.8 L746.7 215.3 L747.5 215.4 L748.3 215.9 L749.1 215.8 L749.4 214.8" stroke="#FF0A0C" stroke-width="2.0"/>
<path d="M102.7 383.2 L103.5 383.3 L104.3 382.9 L105.1 383.4 L105.9 382.5 L106.7 383.3 L107.5 382.9 L108.3 382.0 L109.1 382.0 L109.9 382.6 L110.7 382.8 L111.5 382.0 L112.3 382.4 L113.1 382.9 L113.9 382.3 L114.7 383.3 L115.5 382.9 L116.3 382.5 L117.1 382.9 L117.9 383.3 L118.7 383.3 L119.5 383.7 L120.3 383.2 L121.1 384.2 L121.9 383.8 L122.7 384.3 L123.5 384.4 L124.3 384.3 L125.1 384.4 L125.9 385.0 L126.7 385.3 L127.5 385.1 L128.3 384.8 L129.1 384.5 L129.9 384.2 L130.7 385.2 L131.5 384.9 L132.3 385.0 L133.1 384.4 L133.9 384.7 L134.7 385.1 L135.5 384.9 L136.3 384.6 L137.1 384.3 L137.9 384.4 L138.7 384.9 L139.5 384.3 L140.3 384.6 L141.1 384.4 L141.9 384.8 L142.7 384.6 L143.5 383.9 L144.3 383.5 L145.1 383.8 L145.9 384.0 L146.7 384.1 L147.5 384.3 L148.3 384.4 L149.1 383.3 L149.9 384.2 L150.7 384.2 L151.5 384.2 L152.3 383.8 L153.1 383.4 L153.9 384.0 L154.7 383.9 L155.5 383.8 L156.3 384.1 L157.1 383.5 L157.9 383.3 L158.7 383.9 L159.5 384.3 L160.3 383.7 L161.1 384.5 L161.9 384.8 L162.7 384.0 L163.5 384.6 L164.3 384.8 L165.1 384.6 L165.9 384.4 L166.7 384.5 L167.5 385.1 L168.3 385.2 L169.1 384.8 L169.9 384.4 L170.7 385.3 L171.5 385.2 L172.3 384.6 L173.1 385.1 L173.9 385.4 L174.7 385.5 L175.5 385.0 L176.3 385.0 L177.1 385.2 L177.9 384.7 L178.7 384.7 L179.5 384.7 L180.3 385.3 L181.1 384.9 L181.9 385.2 L182.7 385.0 L183.5 385.1 L184.3 384.7 L185.1 384.6 L185.9 385.7 L186.7 384.9 L187.5 384.6 L188.3 385.3 L189.1 385.4 L189.9 384.7 L190.7 385.2 L191.5 384.9 L192.3 385.1 L193.1 384.5 L193.9 384.4 L194.7 385.5 L195.5 385.3 L196.3 384.7 L197.1 384.7 L197.9 384.3 L198.7 384.8 L199.5 384.3 L200.3 384.7 L201.1 384.3 L201.9 384.1 L202.7 384.1 L203.5 383.1 L204.3 382.6 L205.1 382.6 L205.9 382.4 L206.7 382.1 L207.5 381.8 L208.3 382.3 L209.1 382.5 L209.9 381.8 L210.7 382.2 L211.5 382.0 L212.3 380.8 L213.1 381.3 L213.9 380.9 L214.7 380.4 L215.5 381.2 L216.3 380.2 L217.1 380.5 L217.9 380.5 L218.7 380.8 L219.5 380.4 L220.3 380.1 L221.1 380.1 L221.9 379.7 L222.7 380.7 L223.5 380.7 L224.3 379.7 L225.1 379.4 L225.9 379.7 L226.7 379.8 L227.5 380.4 L228.3 380.4 L229.1 380.2 L229.9 379.3 L230.7 380.1 L231.5 380.0 L232.3 379.9 L233.1 380.2 L233.9 379.1 L234.7 379.1 L235.5 379.8 L236.3 380.0 L237.1 379.7 L237.9 379.1 L238.7 379.4 L239.5 379.4 L240.3 378.5 L241.1 378.6 L241.9 378.4 L242.7 378.0 L243.5 378.3 L244.3 377.8 L245.1 377.7 L245.9 377.4 L246.7 377.9 L247.5 376.9 L248.3 377.6 L249.1 376.9 L249.9 376.5 L250.7 377.5 L251.5 376.5 L252.3 377.2 L253.1 377.0 L253.9 376.9 L254.7 375.9 L255.5 376.1 L256.3 375.6 L257.1 376.4 L257.9 376.2 L258.7 375.8 L259.5 375.5 L260.3 375.2 L261.1 375.7 L261.9 375.1 L262.7 375.2 L263.5 374.5 L264.3 374.5 L265.1 374.1 L265.9 374.8 L266.7 374.5 L267.5 373.9 L268.3 374.6 L269.1 373.7 L269.9 373.7 L270.7 373.2 L271.5 373.1 L272.3 373.6 L273.1 372.8 L273.9 372.3 L274.7 372.5 L275.5 372.1 L276.3 372.6 L277.1 371.4 L277.9 372.2 L278.7 370.9 L279.5 371.7 L280.3 371.2 L281.1 370.4 L281.9 370.5 L282.7 370.1 L283.5 369.8 L284.3 369.5 L285.1 369.5 L285.9 370.0 L286.7 369.8 L287.5 369.5 L288.3 368.3 L289.1 368.3 L289.9 368.9 L290.7 367.7 L291.5 368.3 L292.3 367.6 L293.1 368.3 L293.9 367.0 L294.7 367.8 L295.5 367.0 L296.3 366.6 L297.1 366.3 L297.9 367.1 L298.7 366.6 L299.5 366.0 L300.3 366.2 L301.1 366.5 L301.9 365.5 L302.7 365.7 L303.5 364.9 L304.3 364.8 L305.1 365.2 L305.9 364.9 L306.7 364.1 L307.5 363.7 L308.3 363.5 L309.1 363.9 L309.9 363.6 L310.7 363.1 L311.5 362.9 L312.3 363.2 L313.1 363.1 L313.9 363.0 L314.7 362.5 L315.5 361.9 L316.3 361.5 L317.1 362.1 L317.9 361.5 L318.7 361.6 L319.5 360.5 L320.3 361.1 L321.1 360.2 L321.9 360.6 L322.7 360.3 L323.5 359.6 L324.3 358.7 L325.1 359.5 L325.9 358.7 L326.7 359.0 L327.5 358.0 L328.3 357.7 L329.1 358.2 L329.9 357.5 L330.7 357.0 L331.5 357.0 L332.3 357.1 L333.1 356.1 L333.9 356.5 L334.7 356.3 L335.5 356.2 L336.3 355.6 L337.1 356.2 L337.9 356.2 L338.7 356.1 L339.5 355.3 L340.3 355.7 L341.1 355.1 L341.9 355.4 L342.7 354.5 L343.5 355.3 L344.3 355.3 L345.1 354.6 L345.9 354.5 L346.7 354.3 L347.5 354.2 L348.3 353.4 L349.1 354.4 L349.9 353.4 L350.7 353.2 L351.5 352.9 L352.3 353.0 L353.1 353.5 L353.9 352.5 L354.7 352.4 L355.5 353.0 L356.3 352.3 L357.1 352.0 L357.9 352.5 L358.7 352.4 L359.5 351.9 L360.3 351.5 L361.1 350.0 L361.9 350.1 L362.7 349.1 L363.5 347.4 L364.3 346.7 L365.1 346.3 L365.9 345.5 L366.7 344.5 L367.5 343.7 L368.3 343.3 L369.1 342.3 L369.9 342.1 L370.7 341.8 L371.5 340.2 L372.3 340.0 L373.1 339.6 L373.9 338.3 L374.7 338.6 L375.5 338.2 L376.3 337.0 L377.1 336.5 L377.9 336.5 L378.7 335.6 L379.5 334.9 L380.3 335.1 L381.1 334.5 L381.9 333.6 L382.7 333.1 L383.5 332.9 L384.3 332.6 L385.1 332.9 L385.9 332.3 L386.7 332.1 L387.5 331.7 L388.3 331.4 L389.1 330.2 L389.9 330.4 L390.7 330.7 L391.5 330.3 L392.3 329.2 L393.1 329.1 L393.9 329.1 L394.7 328.6 L395.5 328.6 L396.3 327.8 L397.1 328.1 L397.9 328.0 L398.7 327.2 L399.5 327.1 L400.3 327.9 L401.1 327.5 L401.9 327.5 L402.7 326.9 L403.5 326.8 L404.3 326.7 L405.1 326.5 L405.9 325.2 L406.7 325.6 L407.5 324.7 L408.3 324.5 L409.1 323.3 L409.9 322.9 L410.7 322.7 L411.5 321.6 L412.3 320.5 L413.1 320.1 L413.9 319.3 L414.7 319.3 L415.5 317.8 L416.3 317.2 L417.1 317.0 L417.9 315.7 L418.7 315.6 L419.5 315.4 L420.3 314.2 L421.1 313.1 L421.9 312.4 L422.7 311.5 L423.5 310.0 L424.3 309.0 L425.1 308.0 L425.9 307.1 L426.7 306.0 L427.5 304.5 L428.3 303.1 L429.1 301.6 L429.9 300.8 L430.7 299.9 L431.5 298.3 L432.3 297.0 L433.1 295.9 L433.9 294.2 L434.7 293.6 L435.5 292.1 L436.3 291.1 L437.1 290.3 L437.9 289.3 L438.7 288.3 L439.5 287.4 L440.3 286.6 L441.1 286.1 L441.9 285.2 L442.7 284.6 L443.5 283.1 L444.3 282.7 L445.1 282.5 L445.9 281.0 L446.7 280.6 L447.5 279.8 L448.3 278.9 L449.1 279.0 L449.9 277.5 L450.7 277.4 L451.5 276.0 L452.3 275.2 L453.1 275.4 L453.9 274.1 L454.7 272.8 L455.5 272.4 L456.3 271.7 L457.1 271.3 L457.9 269.7 L458.7 269.0 L459.5 269.1 L460.3 267.9 L461.1 266.3 L461.9 265.6 L462.7 264.7 L463.5 264.2 L464.3 263.2 L465.1 262.6 L465.9 261.7 L466.7 260.4 L467.5 259.7 L468.3 258.8 L469.1 257.9 L469.9 256.6 L470.7 256.0 L471.5 255.1 L472.3 254.5 L473.1 252.8 L473.9 252.8 L474.7 251.0 L475.5 251.1 L476.3 250.1 L477.1 249.1 L477.9 248.8 L478.7 247.4 L479.5 246.3 L480.3 245.9 L481.1 245.3 L481.9 244.3 L482.7 243.5 L483.5 243.0 L484.3 242.4 L485.1 242.1 L485.9 241.0 L486.7 240.5 L487.5 240.1 L488.3 239.4 L489.1 238.8 L489.9 238.8 L490.7 238.4 L491.5 237.5 L492.3 236.9 L493.1 236.1 L493.9 235.7 L494.7 235.0 L495.5 235.0 L496.3 234.4 L497.1 233.3 L497.9 233.7 L498.7 232.4 L499.5 232.5 L500.3 231.9 L501.1 231.5 L501.9 230.1 L502.7 229.9 L503.5 230.0 L504.3 228.5 L505.1 228.1 L505.9 228.2 L506.7 227.6 L507.5 227.4 L508.3 226.5 L509.1 225.4 L509.9 225.2 L510.7 223.8 L511.5 223.0 L512.3 222.4 L513.1 221.3 L513.9 220.4 L514.7 219.9 L515.5 218.8 L516.3 218.7 L517.1 217.6 L517.9 216.5 L518.7 215.1 L519.5 214.5 L520.3 213.5 L521.1 212.8 L521.9 211.9 L522.7 211.4 L523.5 210.7 L524.3 209.3 L525.1 208.5 L525.9 207.9 L526.7 207.6 L527.5 205.9 L528.3 205.1 L529.1 204.4 L529.9 202.5 L530.7 201.5 L531.5 201.1 L532.3 199.7 L533.1 198.2 L533.9 196.5 L534.7 196.2 L535.5 194.8 L536.3 193.9 L537.1 193.1 L537.9 192.1 L538.7 190.6 L539.5 189.3 L540.3 188.6 L541.1 188.0 L541.9 187.2 L542.7 186.2 L543.5 185.5 L544.3 185.3 L545.1 184.6 L545.9 183.7 L546.7 183.8 L547.5 182.7 L548.3 181.4 L549.1 181.2 L549.9 181.1 L550.7 179.9 L551.5 179.7 L552.3 178.3 L553.1 178.2 L553.9 178.3 L554.7 177.4 L555.5 177.0 L556.3 175.9 L557.1 175.7 L557.9 175.2 L558.7 174.3 L559.5 174.2 L560.3 173.5 L561.1 173.4 L561.9 172.4 L562.7 171.6 L563.5 170.6 L564.3 170.1 L565.1 170.2 L565.9 168.6 L566.7 167.7 L567.5 166.9 L568.3 166.4 L569.1 165.8 L569.9 164.7 L570.7 164.1 L571.5 162.5 L572.3 161.8 L573.1 162.1 L573.9 160.9 L574.7 160.8 L575.5 159.8 L576.3 159.0 L577.1 158.6 L577.9 157.9 L578.7 158.3 L579.5 157.4 L580.3 156.6 L581.1 156.3 L581.9 156.0 L582.7 155.4 L583.5 156.2 L584.3 155.7 L585.1 155.9 L585.9 155.2 L586.7 155.5 L587.5 155.4 L588.3 155.6 L589.1 157.0 L589.9 157.3 L590.7 157.1 L591.5 158.2 L592.3 158.6 L593.1 158.5 L593.9 159.4 L594.7 160.3 L595.5 160.3 L596.3 161.4 L597.1 161.0 L597.9 161.6 L598.7 162.3 L599.5 162.1 L600.3 162.6 L601.1 163.7 L601.9 163.5 L602.7 163.9 L603.5 163.2 L604.3 163.0 L605.1 163.1 L605.9 162.7 L606.7 163.4 L607.5 162.1 L608.3 161.7 L609.1 160.3 L609.9 159.9 L610.7 158.8 L611.5 157.9 L612.3 156.1 L613.1 154.3 L613.9 152.8 L614.7 149.9 L615.5 147.8 L616.3 146.0 L617.1 144.5 L617.9 142.9 L618.7 141.2 L619.5 140.7 L620.3 139.3 L621.1 138.0 L621.9 137.5 L622.7 135.7 L623.5 134.8 L624.3 134.2 L625.1 132.0 L625.9 130.9 L626.7 129.9 L627.5 128.4 L628.3 126.1 L629.1 124.9 L629.9 124.1 L630.7 122.7 L631.5 122.7 L632.3 121.1 L633.1 121.3 L633.9 120.0 L634.7 119.0 L635.5 118.6 L636.3 117.7 L637.1 118.0 L637.9 117.2 L638.7 117.7 L639.5 117.0 L640.3 116.4 L641.1 116.0 L641.9 116.1 L642.7 115.4 L643.5 116.0 L644.3 115.0 L645.1 115.3 L645.9 115.3 L646.7 114.8 L647.5 115.3 L648.3 114.8 L649.1 115.0 L649.9 114.8 L650.7 114.3 L651.5 114.2 L652.3 113.6 L653.1 113.5 L653.9 114.1 L654.7 113.3 L655.5 113.5 L656.3 112.7 L657.1 113.0 L657.9 112.6 L658.7 112.5 L659.5 112.1 L660.3 111.6 L661.1 111.7 L661.9 111.4 L662.7 111.0 L663.5 111.5 L664.3 110.5 L665.1 110.1 L665.9 110.1 L666.7 109.3 L667.5 108.9 L668.3 108.2 L669.1 106.8 L669.9 106.3 L670.7 105.4 L671.5 105.5 L672.3 104.7 L673.1 103.6 L673.9 102.9 L674.7 102.5 L675.5 101.9 L676.3 100.8 L677.1 101.2 L677.9 100.3 L678.7 100.4 L679.5 99.6 L680.3 99.2 L681.1 100.0 L681.9 99.6 L682.7 99.6 L683.5 98.7 L684.3 98.7 L685.1 98.8 L685.9 98.8 L686.7 99.0 L687.5 99.3 L688.3 99.1 L689.1 99.6 L689.9 100.2 L690.7 99.9 L691.5 101.0 L692.3 101.0 L693.1 101.7 L693.9 101.5 L694.7 102.2 L695.5 103.0 L696.3 103.1 L697.1 103.4 L697.9 105.4 L698.7 106.4 L699.5 106.8 L700.3 107.6 L701.1 109.6 L701.9 110.4 L702.7 110.8 L703.5 112.1 L704.3 113.0 L705.1 114.9 L705.9 115.2 L706.7 117.1 L707.5 117.7 L708.3 117.5 L709.1 118.7 L709.9 118.8 L710.7 119.7 L711.5 120.2 L712.3 119.7 L713.1 119.2 L713.9 119.7 L714.7 118.5 L715.5 118.6 L716.3 117.8 L717.1 117.1 L717.9 116.2 L718.7 114.7 L719.5 113.1 L720.3 111.2 L721.1 110.6 L721.9 108.8 L722.7 107.3 L723.5 105.9 L724.3 102.9 L725.1 101.6 L725.9 99.0 L726.7 98.4 L727.5 97.4 L728.3 95.7 L729.1 95.0 L729.9 94.5 L730.7 93.2 L731.5 92.3 L732.3 91.1 L733.1 90.1 L733.9 89.7 L734.7 89.0 L735.5 88.0 L736.3 87.5 L737.1 86.7 L737.9 86.8 L738.7 86.2 L739.5 85.2 L740.3 84.9 L741.1 85.2 L741.9 85.4 L742.7 86.5 L743.5 86.6 L744.3 87.2 L745.1 88.7 L745.9 88.5 L746.7 89.7 L747.5 90.2 L748.3 91.5 L749.1 91.7 L749.4 92.3" stroke="#0030FF" stroke-width="2.2" stroke-dasharray="4.0 4.5"/>
<path d="M102.7 385.2 L103.5 385.7 L104.3 385.4 L105.1 385.1 L105.9 385.2 L106.7 385.1 L107.5 384.1 L108.3 384.2 L109.1 384.3 L109.9 384.2 L110.7 384.1 L111.5 384.4 L112.3 384.4 L113.1 385.0 L113.9 384.7 L114.7 384.4 L115.5 384.6 L116.3 384.8 L117.1 384.7 L117.9 384.5 L118.7 384.4 L119.5 384.4 L120.3 385.5 L121.1 385.3 L121.9 384.5 L122.7 385.3 L123.5 385.6 L124.3 385.1 L125.1 384.6 L125.9 385.1 L126.7 385.0 L127.5 384.8 L128.3 385.3 L129.1 384.7 L129.9 385.9 L130.7 385.6 L131.5 385.6 L132.3 386.1 L133.1 385.8 L133.9 385.4 L134.7 385.4 L135.5 385.3 L136.3 385.3 L137.1 386.2 L137.9 386.4 L138.7 385.8 L139.5 385.7 L140.3 386.3 L141.1 386.6 L141.9 386.7 L142.7 385.8 L143.5 386.6 L144.3 386.7 L145.1 386.6 L145.9 386.1 L146.7 386.0 L147.5 386.8 L148.3 386.2 L149.1 386.3 L149.9 386.5 L150.7 386.4 L151.5 386.9 L152.3 386.3 L153.1 386.1 L153.9 386.7 L154.7 386.8 L155.5 387.0 L156.3 386.9 L157.1 387.1 L157.9 387.0 L158.7 386.4 L159.5 386.3 L160.3 385.9 L161.1 386.0 L161.9 386.2 L162.7 385.5 L163.5 386.2 L164.3 385.5 L165.1 385.7 L165.9 386.3 L166.7 385.2 L167.5 385.1 L168.3 385.6 L169.1 385.3 L169.9 385.9 L170.7 385.0 L171.5 386.0 L172.3 386.0 L173.1 385.9 L173.9 385.5 L174.7 385.3 L175.5 385.8 L176.3 385.6 L177.1 385.4 L177.9 385.3 L178.7 385.4 L179.5 385.7 L180.3 385.8 L181.1 385.9 L181.9 384.9 L182.7 385.0 L183.5 385.2 L184.3 385.3 L185.1 384.9 L185.9 384.7 L186.7 384.5 L187.5 384.8 L188.3 384.9 L189.1 385.4 L189.9 385.2 L190.7 384.9 L191.5 384.7 L192.3 384.4 L193.1 383.6 L193.9 383.5 L194.7 382.2 L195.5 382.5 L196.3 382.0 L197.1 381.1 L197.9 380.9 L198.7 380.8 L199.5 379.7 L200.3 379.5 L201.1 378.6 L201.9 378.2 L202.7 378.5 L203.5 377.0 L204.3 376.8 L205.1 377.0 L205.9 376.3 L206.7 375.6 L207.5 376.1 L208.3 375.7 L209.1 375.9 L209.9 375.7 L210.7 375.8 L211.5 375.8 L212.3 375.5 L213.1 375.2 L213.9 375.3 L214.7 376.2 L215.5 375.9 L216.3 375.6 L217.1 376.6 L217.9 376.0 L218.7 375.9 L219.5 376.6 L220.3 376.4 L221.1 376.7 L221.9 376.8 L222.7 376.4 L223.5 376.8 L224.3 376.2 L225.1 376.7 L225.9 376.7 L226.7 376.1 L227.5 376.4 L228.3 376.0 L229.1 376.4 L229.9 376.9 L230.7 376.5 L231.5 376.6 L232.3 376.6 L233.1 375.8 L233.9 376.8 L234.7 376.5 L235.5 375.7 L236.3 376.5 L237.1 375.9 L237.9 375.6 L238.7 376.5 L239.5 376.0 L240.3 376.0 L241.1 375.0 L241.9 375.5 L242.7 374.4 L243.5 374.3 L244.3 374.2 L245.1 373.5 L245.9 373.9 L246.7 373.1 L247.5 373.0 L248.3 373.1 L249.1 372.5 L249.9 372.7 L250.7 372.1 L251.5 372.0 L252.3 371.3 L253.1 371.4 L253.9 371.0 L254.7 369.8 L255.5 370.2 L256.3 369.4 L257.1 369.6 L257.9 369.2 L258.7 369.1 L259.5 368.0 L260.3 368.0 L261.1 368.1 L261.9 368.1 L262.7 367.5 L263.5 366.4 L264.3 366.9 L265.1 366.0 L265.9 366.3 L266.7 366.4 L267.5 365.3 L268.3 366.0 L269.1 365.5 L269.9 364.7 L270.7 364.4 L271.5 364.5 L272.3 364.7 L273.1 364.2 L273.9 363.4 L274.7 363.1 L275.5 363.0 L276.3 363.7 L277.1 362.8 L277.9 363.0 L278.7 362.5 L279.5 362.8 L280.3 362.2 L281.1 361.8 L281.9 362.5 L282.7 361.9 L283.5 361.9 L284.3 361.9 L285.1 362.0 L285.9 360.8 L286.7 361.1 L287.5 360.7 L288.3 361.0 L289.1 361.4 L289.9 361.2 L290.7 360.1 L291.5 360.2 L292.3 360.9 L293.1 360.6 L293.9 360.1 L294.7 360.0 L295.5 359.5 L296.3 360.1 L297.1 359.4 L297.9 359.7 L298.7 359.2 L299.5 358.4 L300.3 358.5 L301.1 358.2 L301.9 358.8 L302.7 358.1 L303.5 357.0 L304.3 356.7 L305.1 356.4 L305.9 356.1 L306.7 355.8 L307.5 355.1 L308.3 354.6 L309.1 353.8 L309.9 354.1 L310.7 353.5 L311.5 352.8 L312.3 353.0 L313.1 353.3 L313.9 351.9 L314.7 351.7 L315.5 352.0 L316.3 351.2 L317.1 350.9 L317.9 350.9 L318.7 350.3 L319.5 350.4 L320.3 350.1 L321.1 350.3 L321.9 350.1 L322.7 348.7 L323.5 349.0 L324.3 349.0 L325.1 348.9 L325.9 348.4 L326.7 348.0 L327.5 347.6 L328.3 347.0 L329.1 346.5 L329.9 346.8 L330.7 346.5 L331.5 346.3 L332.3 345.6 L333.1 344.8 L333.9 345.1 L334.7 344.7 L335.5 344.2 L336.3 344.1 L337.1 343.5 L337.9 343.5 L338.7 343.1 L339.5 342.4 L340.3 342.5 L341.1 342.3 L341.9 342.8 L342.7 342.0 L343.5 341.7 L344.3 341.4 L345.1 341.2 L345.9 341.3 L346.7 340.9 L347.5 340.7 L348.3 341.8 L349.1 341.5 L349.9 341.7 L350.7 342.0 L351.5 341.8 M361.9 328.3 L362.7 327.7 L363.5 326.9 L364.3 326.0 L365.1 325.7 L365.9 324.9 L366.7 325.0 L367.5 323.8 L368.3 324.0 L369.1 323.2 L369.9 322.1 L370.7 321.8 L371.5 321.9 L372.3 321.9 L373.1 320.7 L373.9 320.8 L374.7 320.0 L375.5 320.1 L376.3 318.5 L377.1 318.3 L377.9 318.0 L378.7 316.4 L379.5 315.6 L380.3 314.6 L381.1 314.2 L381.9 313.8 L382.7 313.9 L383.5 312.8 L384.3 312.5 L385.1 311.8 L385.9 311.8 L386.7 311.6 L387.5 311.0 L388.3 310.0 L389.1 310.2 L389.9 310.1 L390.7 309.5 L391.5 308.9 L392.3 310.0 L393.1 310.3 L393.9 309.9 L394.7 309.8 L395.5 310.0 L396.3 310.5 L397.1 311.0 L397.9 310.7 L398.7 311.1 L399.5 310.2 L400.3 310.1 L401.1 310.1 L401.9 309.4 L402.7 308.6 L403.5 308.4 L404.3 307.3 L405.1 306.1 L405.9 305.4 L406.7 303.8 L407.5 303.4 L408.3 301.9 L409.1 301.0 L409.9 300.0 L410.7 298.5 L411.5 297.6 L412.3 296.1 L413.1 296.2 L413.9 294.8 L414.7 294.4 L415.5 292.3 L416.3 292.0 L417.1 291.1 L417.9 289.5 L418.7 288.0 L419.5 287.0 L420.3 285.7 L421.1 285.0 L421.9 282.6 L422.7 281.9 L423.5 279.6 L424.3 277.8 L425.1 275.8 L425.9 273.9 L426.7 272.3 L427.5 270.6 L428.3 268.7 L429.1 267.9 L429.9 266.1 L430.7 265.5 L431.5 264.5 L432.3 263.0 L433.1 260.7 L433.9 259.0 L434.7 257.3 L435.5 255.2 L436.3 253.9 L437.1 253.2 L437.9 252.7 L438.7 250.8 L439.5 249.9 L440.3 249.7 L441.1 249.1 L441.9 248.5 L442.7 247.3 L443.5 247.2 L444.3 245.4 L445.1 245.2 L445.9 243.5 L446.7 242.5 L447.5 241.7 L448.3 240.7 L449.1 240.2 L449.9 239.3 L450.7 237.9 L451.5 237.9 L452.3 236.3 L453.1 235.1 L453.9 234.3 L454.7 234.2 L455.5 233.6 L456.3 231.8 L457.1 230.9 L457.9 231.1 L458.7 229.9 L459.5 230.1 L460.3 228.9 L461.1 228.3 L461.9 227.1 L462.7 226.7 L463.5 225.3 L464.3 224.1 L465.1 223.8 L465.9 221.7 L466.7 221.2 L467.5 219.2 L468.3 218.7 L469.1 217.3 L469.9 216.8 L470.7 214.8 L471.5 214.4 L472.3 213.1 L473.1 212.7 L473.9 211.6 L474.7 210.1 L475.5 208.5 L476.3 207.4 L477.1 206.4 L477.9 205.6 L478.7 204.3 L479.5 203.3 L480.3 202.9 L481.1 201.8 L481.9 200.4 L482.7 200.2 L483.5 198.3 L484.3 197.8 L485.1 196.6 L485.9 196.8 L486.7 196.3 L487.5 195.0 L488.3 195.0 L489.1 194.5 L489.9 193.4 L490.7 193.1 L491.5 192.9 L492.3 193.1 L493.1 191.8 L493.9 192.1 L494.7 191.6 L495.5 191.1 L496.3 190.9 L497.1 191.0 L497.9 189.9 L498.7 190.4 L499.5 189.5 L500.3 189.7 L501.1 189.5 L501.9 188.4 L502.7 188.9 L503.5 188.7 L504.3 187.3 L505.1 186.5 L505.9 186.0 L506.7 186.5 L507.5 184.7 L508.3 185.2 L509.1 183.8 L509.9 183.8 L510.7 182.3 L511.5 181.4 L512.3 181.1 L513.1 179.4 L513.9 178.7 L514.7 178.4 L515.5 177.2 L516.3 176.5 L517.1 175.7 L517.9 173.6 L518.7 172.9 L519.5 172.7 L520.3 171.7 L521.1 170.1 L521.9 169.8 L522.7 168.7 L523.5 168.1 L524.3 166.9 L525.1 166.0 L525.9 166.3 L526.7 164.5 L527.5 164.3 L528.3 162.4 L529.1 161.8 L529.9 160.5 L530.7 159.9 L531.5 158.8 L532.3 158.7 L533.1 157.3 L533.9 157.3 L534.7 156.3 L535.5 155.1 L536.3 154.8 L537.1 154.4 L537.9 154.3 L538.7 153.1 L539.5 152.4 L540.3 152.8 L541.1 152.1 L541.9 151.4 L542.7 150.4 L543.5 149.9 L544.3 149.7 L545.1 149.2 L545.9 148.9 L546.7 149.2 L547.5 148.8 L548.3 148.7 L549.1 148.2 L549.9 147.6 L550.7 148.2 L551.5 148.1 L552.3 147.9 L553.1 147.8 L553.9 147.9 L554.7 148.1 L555.5 147.9 L556.3 147.6 L557.1 146.9 L557.9 146.4 L558.7 146.0 L559.5 146.2 L560.3 145.0 L561.1 144.5 L561.9 144.0 L562.7 143.2 L563.5 143.7 L564.3 141.9 L565.1 142.0 L565.9 141.7 L566.7 140.2 L567.5 140.0 L568.3 139.0 L569.1 138.1 L569.9 137.3 L570.7 136.4 L571.5 136.5 L572.3 135.6 L573.1 135.0 L573.9 133.2 L574.7 133.2 L575.5 132.0 L576.3 131.6 L577.1 130.7 L577.9 129.7 L578.7 129.7 L579.5 127.9 L580.3 128.1 L581.1 127.7 L581.9 126.7 L582.7 126.2 L583.5 126.1 L584.3 124.6 L585.1 124.6 L585.9 124.4 L586.7 123.5 L587.5 123.5 L588.3 122.8 L589.1 122.9 L589.9 123.2 L590.7 123.7 L591.5 123.6 L592.3 124.4 L593.1 124.7 L593.9 124.7 L594.7 125.7 L595.5 125.7 L596.3 127.0 L597.1 126.9 L597.9 127.7 L598.7 127.9 L599.5 128.3 L600.3 128.5 L601.1 128.9 L601.9 130.3 L602.7 130.3 L603.5 130.7 L604.3 131.2 L605.1 132.0 L605.9 131.7 L606.7 132.1 L607.5 133.3 L608.3 133.3 L609.1 133.7 L609.9 133.8 L610.7 133.7 L611.5 133.5 L612.3 132.3 L613.1 132.5 L613.9 132.8 L614.7 132.5 L615.5 131.3 L616.3 131.0 L617.1 130.6 L617.9 129.8 L618.7 129.4 L619.5 129.2 L620.3 128.1 L621.1 127.3 L621.9 126.1 L622.7 125.8 L623.5 125.8 L624.3 124.8 L625.1 123.9 L625.9 123.4 L626.7 123.3 L627.5 122.7 L628.3 121.4 L629.1 121.5 L629.9 120.6 L630.7 120.3 L631.5 119.5 L632.3 119.2 L633.1 118.8 L633.9 118.4 L634.7 117.5 L635.5 117.3 L636.3 117.3 L637.1 116.3 L637.9 116.1 L638.7 116.6 L639.5 115.9 L640.3 115.9 L641.1 115.7 L641.9 116.3 L642.7 115.3 L643.5 115.9 L644.3 116.1 L645.1 115.4 L645.9 115.8 L646.7 116.4 L647.5 116.4 L648.3 116.3 L649.1 116.1 L649.9 116.8 L650.7 116.9 L651.5 117.5 L652.3 117.3 L653.1 117.7 L653.9 118.2 L654.7 118.7 L655.5 118.4 L656.3 118.7 L657.1 119.2 L657.9 119.9 L658.7 119.1 L659.5 120.1 L660.3 119.7 L661.1 119.2 L661.9 119.5 L662.7 119.0 L663.5 118.7 L664.3 119.4 L665.1 118.9 L665.9 118.9 L666.7 118.7 L667.5 119.0 L668.3 118.6 L669.1 117.6 L669.9 118.0 L670.7 117.7 L671.5 117.5 L672.3 117.8 L673.1 117.1 L673.9 117.1 L674.7 117.5 L675.5 116.8 L676.3 116.8 L677.1 116.7 L677.9 117.0 L678.7 116.7 L679.5 116.7 L680.3 116.3 L681.1 115.8 L681.9 116.6 L682.7 116.5 L683.5 116.7 L684.3 116.7 L685.1 115.9 L685.9 116.1 L686.7 116.1 L687.5 117.3 L688.3 116.7 L689.1 117.0 L689.9 118.2 L690.7 118.3 L691.5 118.1 L692.3 119.5 L693.1 120.3 L693.9 120.7 L694.7 121.0 L695.5 122.5 L696.3 122.9 L697.1 123.9 L697.9 125.2 L698.7 125.7 L699.5 126.6 L700.3 126.5 L701.1 127.5 L701.9 128.4 L702.7 128.5 L703.5 130.2 L704.3 129.8 L705.1 130.3 L705.9 130.9 L706.7 131.4 L707.5 132.5 L708.3 132.5 L709.1 132.8 L709.9 133.0 L710.7 132.8 L711.5 133.4 L712.3 134.3 L713.1 134.4 L713.9 134.5 L714.7 133.9 L715.5 133.7 L716.3 133.1 L717.1 132.9 L717.9 132.0 L718.7 131.3 L719.5 130.6 L720.3 130.0 L721.1 129.1 L721.9 129.0 L722.7 127.7 L723.5 127.9 L724.3 126.9 L725.1 125.7 L725.9 125.6 L726.7 125.5 L727.5 125.2 L728.3 125.2 L729.1 124.8 L729.9 124.5 L730.7 125.0 L731.5 124.2 L732.3 124.6 L733.1 124.5 L733.9 124.1 L734.7 123.8 L735.5 124.2 L736.3 123.5 L737.1 123.8 L737.9 122.7 L738.7 123.0 L739.5 123.1 L740.3 122.5 L741.1 123.6 L741.9 122.9 L742.7 123.8 L743.5 123.6 L744.3 124.7 L745.1 124.6 L745.9 125.1 L746.7 125.0 L747.5 125.5 L748.3 125.8 L749.1 125.5 L749.4 125.5" stroke="#FF6A08" stroke-width="2.2" stroke-dasharray="4.0 4.5"/>
</g>
<path d="M281.1 318.2 H291.9 M286.5 312.8 V323.6 M281.1 312.8 L291.9 323.6 M281.1 323.6 L291.9 312.8" stroke="#FF0A0C" stroke-width="1.5" fill="none"/>
<path d="M298.0 318.2 H308.8 M303.4 312.8 V323.6 M298.0 312.8 L308.8 323.6 M298.0 323.6 L308.8 312.8" stroke="#1094F6" stroke-width="1.5" fill="none"/>
<path d="M346.8 342.1 H357.5 M352.1 336.8 V347.5 M346.8 336.8 L357.5 347.5 M346.8 347.5 L357.5 336.8" stroke="#FF6A08" stroke-width="1.5" fill="none"/>
<path d="M354.0 352.2 H364.8 M359.4 346.8 V357.6 M354.0 346.8 L364.8 357.6 M354.0 357.6 L364.8 346.8" stroke="#0030FF" stroke-width="1.5" fill="none"/>
<path d="M453.2 205.1 H464.0 M458.6 199.7 V210.5 M453.2 199.7 L464.0 210.5 M453.2 210.5 L464.0 199.7" stroke="#FF0A0C" stroke-width="1.5" fill="none"/>
<path d="M476.1 203.0 H486.9 M481.5 197.6 V208.4 M476.1 197.6 L486.9 208.4 M476.1 208.4 L486.9 197.6" stroke="#1094F6" stroke-width="1.5" fill="none"/>
<path d="M567.9 121.1 H578.7 M573.3 115.7 V126.5 M567.9 115.7 L578.7 126.5 M567.9 126.5 L578.7 115.7" stroke="#FF6A08" stroke-width="1.5" fill="none"/>
<path d="M624.5 123.1 H635.3 M629.9 117.7 V128.5 M624.5 117.7 L635.3 128.5 M624.5 128.5 L635.3 117.7" stroke="#0030FF" stroke-width="1.5" fill="none"/>
<line x1="181.1" y1="80.60" x2="242.8" y2="80.60" stroke="#1094F6" stroke-width="1.9"/>
<text class="ann" x="253.1" y="84.5" fill="#1094F6" stroke="#1094F6">P1</text><path d="M262.00 82.00H265.69V86.00H262.00ZM267.53 82.00H271.00V86.00H267.53Z" fill="#fff"/>
<line x1="181.1" y1="96.75" x2="242.8" y2="96.75" stroke="#FF0A0C" stroke-width="1.9"/>
<text class="ann" x="253.1" y="100.7" fill="#FF0A0C" stroke="#FF0A0C">N1</text><path d="M263.00 99.00H266.47V102.00H263.00ZM268.32 99.00H271.00V102.00H268.32Z" fill="#fff"/>
<line x1="181.1" y1="112.90" x2="242.8" y2="112.90" stroke="#0030FF" stroke-width="1.9" stroke-dasharray="5.06 4.23"/>
<text class="ann" x="253.1" y="116.8" fill="#0030FF" stroke="#0030FF">P2</text>
<line x1="181.1" y1="129.05" x2="242.8" y2="129.05" stroke="#FF6A08" stroke-width="1.9" stroke-dasharray="5.06 4.23"/>
<text class="ann" x="253.1" y="132.9" fill="#FF6A08" stroke="#FF6A08">N2</text>
<path d="M127.61 395.80 v-3.60 M127.61 31.60 v3.60 M152.71 395.80 v-3.60 M152.71 31.60 v3.60 M177.82 395.80 v-3.60 M177.82 31.60 v3.60 M202.92 395.80 v-7.30 M202.92 31.60 v7.30 M228.02 395.80 v-3.60 M228.02 31.60 v3.60 M253.12 395.80 v-3.60 M253.12 31.60 v3.60 M278.23 395.80 v-3.60 M278.23 31.60 v3.60 M303.33 395.80 v-7.30 M303.33 31.60 v7.30 M328.43 395.80 v-3.60 M328.43 31.60 v3.60 M353.53 395.80 v-3.60 M353.53 31.60 v3.60 M378.64 395.80 v-3.60 M378.64 31.60 v3.60 M403.74 395.80 v-7.30 M403.74 31.60 v7.30 M428.84 395.80 v-3.60 M428.84 31.60 v3.60 M453.94 395.80 v-3.60 M453.94 31.60 v3.60 M479.05 395.80 v-3.60 M479.05 31.60 v3.60 M504.15 395.80 v-7.30 M504.15 31.60 v7.30 M529.25 395.80 v-3.60 M529.25 31.60 v3.60 M554.36 395.80 v-3.60 M554.36 31.60 v3.60 M579.46 395.80 v-3.60 M579.46 31.60 v3.60 M604.56 395.80 v-7.30 M604.56 31.60 v7.30 M629.66 395.80 v-3.60 M629.66 31.60 v3.60 M654.76 395.80 v-3.60 M654.76 31.60 v3.60 M679.87 395.80 v-3.60 M679.87 31.60 v3.60 M704.97 395.80 v-7.30 M704.97 31.60 v7.30 M730.07 395.80 v-3.60 M730.07 31.60 v3.60 M755.17 395.80 v-3.60 M755.17 31.60 v3.60 M780.28 395.80 v-3.60 M780.28 31.60 v3.60 M102.65 377.59 h6.80 M799.95 377.59 h-6.80 M102.65 359.38 h6.80 M799.95 359.38 h-6.80 M102.65 341.17 h6.80 M799.95 341.17 h-6.80 M102.65 322.96 h13.80 M799.95 322.96 h-13.80 M102.65 304.75 h6.80 M799.95 304.75 h-6.80 M102.65 286.54 h6.80 M799.95 286.54 h-6.80 M102.65 268.33 h6.80 M799.95 268.33 h-6.80 M102.65 250.12 h13.80 M799.95 250.12 h-13.80 M102.65 231.91 h6.80 M799.95 231.91 h-6.80 M102.65 213.70 h6.80 M799.95 213.70 h-6.80 M102.65 195.49 h6.80 M799.95 195.49 h-6.80 M102.65 177.28 h13.80 M799.95 177.28 h-13.80 M102.65 159.07 h6.80 M799.95 159.07 h-6.80 M102.65 140.86 h6.80 M799.95 140.86 h-6.80 M102.65 122.65 h6.80 M799.95 122.65 h-6.80 M102.65 104.44 h13.80 M799.95 104.44 h-13.80 M102.65 86.23 h6.80 M799.95 86.23 h-6.80 M102.65 68.02 h6.80 M799.95 68.02 h-6.80 M102.65 49.81 h6.80 M799.95 49.81 h-6.80" stroke="#000" stroke-width="1.25" fill="none"/>
<rect x="102.65" y="31.60" width="697.30" height="364.20" fill="none" stroke="#000" stroke-width="1.3"/>
<text class="al" x="203.22" y="420.2" text-anchor="middle">11-Feb</text><path d="M181.00 418.00H184.60V422.00H181.00ZM186.45 418.00H190.00V422.00H186.45ZM188.00 418.00H191.41V422.00H188.00ZM193.26 418.00H196.00V422.00H193.26Z" fill="#fff"/>
<text class="al" x="303.63" y="420.2" text-anchor="middle">12-Feb</text><path d="M281.00 418.00H284.48V422.00H281.00ZM286.33 418.00H290.00V422.00H286.33Z" fill="#fff"/>
<text class="al" x="404.04" y="420.2" text-anchor="middle">13-Feb</text><path d="M382.00 418.00H384.89V422.00H382.00ZM386.74 418.00H390.00V422.00H386.74Z" fill="#fff"/>
<text class="al" x="504.45" y="420.2" text-anchor="middle">14-Feb</text><path d="M482.00 418.00H485.30V422.00H482.00ZM487.15 418.00H490.00V422.00H487.15Z" fill="#fff"/>
<text class="al" x="604.86" y="420.2" text-anchor="middle">15-Feb</text><path d="M582.00 418.00H585.71V422.00H582.00ZM587.56 418.00H591.00V422.00H587.56Z" fill="#fff"/>
<text class="al" x="705.27" y="420.2" text-anchor="middle">16-Feb</text><path d="M683.00 418.00H686.12V422.00H683.00ZM687.97 418.00H691.00V422.00H687.97Z" fill="#fff"/>
<text class="al" style="font-size:14.22px" x="451.1" y="441.2" text-anchor="middle">Start Time (10-Feb-11 00:00:26)</text><path d="M424.00 439.00H426.81V443.00H424.00ZM428.67 439.00H432.00V443.00H428.67ZM473.00 439.00H476.59V443.00H473.00ZM478.45 439.00H482.00V443.00H478.45ZM480.00 439.00H483.45V443.00H480.00ZM485.31 439.00H488.00V443.00H485.31Z" fill="#fff"/>
<text class="al" x="52.7" y="43.0">1</text><path d="M53.00 41.00H55.96V44.00H53.00ZM57.81 41.00H61.00V44.00H57.81Z" fill="#fff"/><path d="M62.7 34.7 l6.8 7.2 M69.5 34.7 l-6.8 7.2" stroke="#000" stroke-width="1.05" fill="none"/><text class="al" x="71.75" y="43.0">10</text><path d="M72.00 41.00H75.01V44.00H72.00ZM76.86 41.00H80.00V44.00H76.86Z" fill="#fff"/><text class="sup" x="87.6" y="34.2">22</text>
<text class="al" x="52.0" y="111.1">8</text><path d="M62.7 102.8 l6.8 7.2 M69.5 102.8 l-6.8 7.2" stroke="#000" stroke-width="1.05" fill="none"/><text class="al" x="71.75" y="111.1">10</text><path d="M72.00 109.00H75.01V112.00H72.00ZM76.86 109.00H80.00V112.00H76.86Z" fill="#fff"/><text class="sup" x="87.6" y="102.3">21</text><path d="M92.00 101.00H94.77V104.00H92.00ZM96.09 101.00H98.00V104.00H96.09Z" fill="#fff"/>
<text class="al" x="52.0" y="184.0">6</text><path d="M62.7 175.7 l6.8 7.2 M69.5 175.7 l-6.8 7.2" stroke="#000" stroke-width="1.05" fill="none"/><text class="al" x="71.75" y="184.0">10</text><path d="M72.00 182.00H75.01V185.00H72.00ZM76.86 182.00H80.00V185.00H76.86Z" fill="#fff"/><text class="sup" x="87.6" y="175.2">21</text><path d="M92.00 174.00H94.77V176.00H92.00ZM96.09 174.00H98.00V176.00H96.09Z" fill="#fff"/>
<text class="al" x="52.0" y="256.8">4</text><path d="M62.7 248.5 l6.8 7.2 M69.5 248.5 l-6.8 7.2" stroke="#000" stroke-width="1.05" fill="none"/><text class="al" x="71.75" y="256.8">10</text><path d="M72.00 255.00H75.01V258.00H72.00ZM76.86 255.00H80.00V258.00H76.86Z" fill="#fff"/><text class="sup" x="87.6" y="248.0">21</text><path d="M92.00 246.00H94.77V249.00H92.00ZM96.09 246.00H98.00V249.00H96.09Z" fill="#fff"/>
<text class="al" x="52.0" y="329.7">2</text><path d="M62.7 321.4 l6.8 7.2 M69.5 321.4 l-6.8 7.2" stroke="#000" stroke-width="1.05" fill="none"/><text class="al" x="71.75" y="329.7">10</text><path d="M72.00 328.00H75.01V331.00H72.00ZM76.86 328.00H80.00V331.00H76.86Z" fill="#fff"/><text class="sup" x="87.6" y="320.9">21</text><path d="M92.00 319.00H94.77V322.00H92.00ZM96.09 319.00H98.00V322.00H96.09Z" fill="#fff"/>
<text class="al" style="font-size:14.5px" transform="translate(37.5 213.1) rotate(-90)" text-anchor="middle">Flux [Mx]</text>
</svg></body></html>
